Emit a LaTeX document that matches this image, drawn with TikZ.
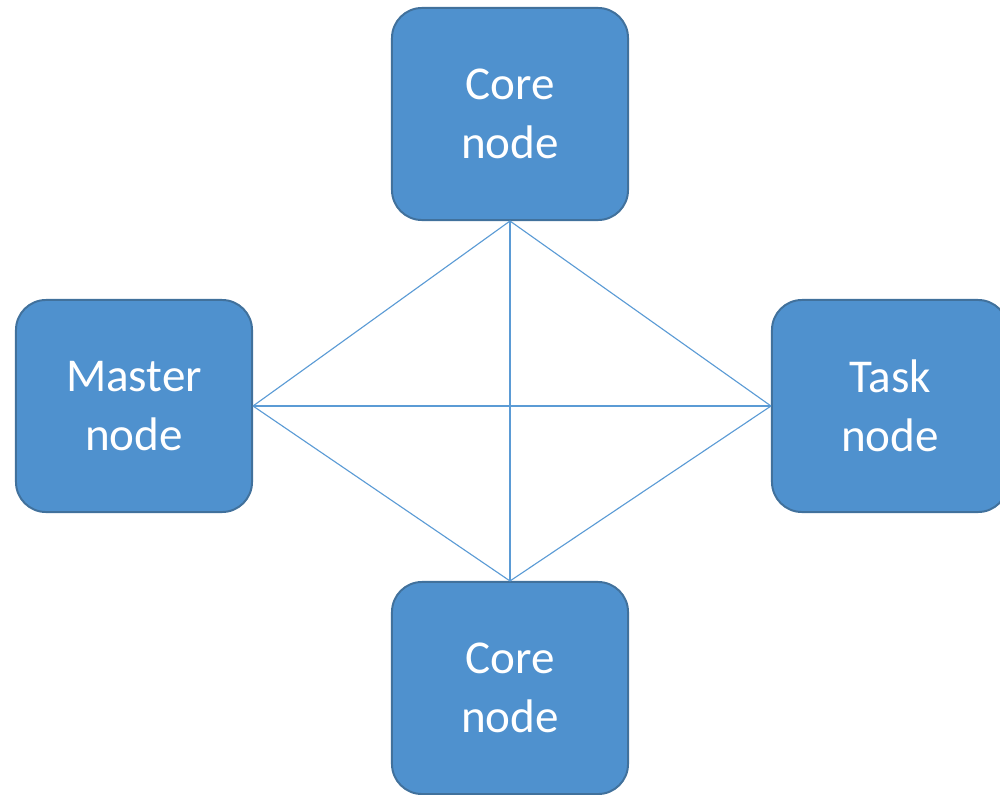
\documentclass[tikz,border=0pt]{standalone}
\usepackage{fontspec}
\setmainfont{Carlito}
\definecolor{boxfill}{RGB}{79,145,206}
\definecolor{boxline}{RGB}{65,113,156}
\definecolor{linkline}{RGB}{91,155,213}
\tikzset{
  nodebox/.style={draw=boxline, line width=1.4pt, fill=boxfill, rounded corners=0.75cm,
    minimum width=5.9cm, minimum height=5.3cm, align=center, text=white,
    font=\fontsize{33.5}{42}\selectfont},
  link/.style={draw=linkline, line width=0.8pt}
}
\begin{document}
\begin{tikzpicture}[x=0.025cm, y=-0.025cm]
  \useasboundingbox (0,0) rectangle (1000,795);
  \node[nodebox] (coretop) at (510,114) {Core\\node};
  \node[nodebox] (master) at (134,406) {Master\\node};
  \node[nodebox] (task) at (890,406) {Task\\node};
  \node[nodebox] (corebot) at (510,688) {Core\\node};
  \draw[link] (coretop.south) -- (master.east);
  \draw[link] (coretop.south) -- (task.west);
  \draw[link] (coretop.south) -- (corebot.north);
  \draw[link] (master.east) -- (task.west);
  \draw[link] (master.east) -- (corebot.north);
  \draw[link] (task.west) -- (corebot.north);
\end{tikzpicture}
\end{document}
